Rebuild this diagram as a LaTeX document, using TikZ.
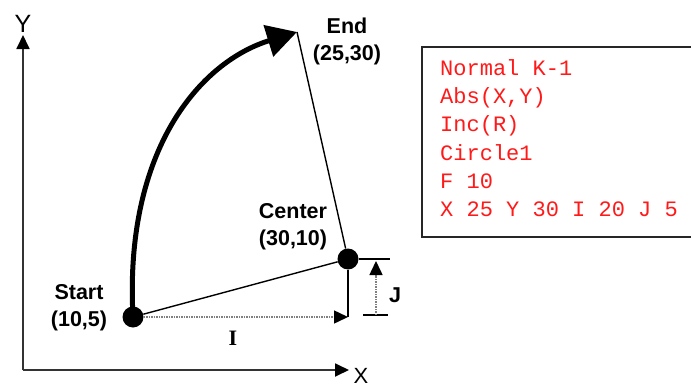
\documentclass[tikz,border=0pt]{standalone}
\usepackage{fontspec}
\setmainfont{Liberation Serif}
\setsansfont{Liberation Sans}
\setmonofont{Liberation Mono}
\usepackage{tikz}
\usetikzlibrary{arrows.meta,positioning}

\begin{document}
\begin{tikzpicture}[
  x=1pt, y=-1pt,
  font=\sffamily\bfseries\fontsize{21.5}{27}\selectfont,
  dot/.style={circle, fill=black, inner sep=0pt, minimum size=21pt},
  lbl/.style={align=center, inner sep=0pt},
  tip/.style={-{Triangle[length=14pt,width=13pt,black]}},
  axis/.style={line width=1.8pt, draw=black!80, tip},
  thinline/.style={line width=1.4pt},
  dimline/.style={line width=1.5pt, draw=black!50, densely dotted, tip},
  codebox/.style={line width=2pt, draw=black!85},
  code/.style={font=\ttfamily\fontsize{22}{28.3}\selectfont, text=red!90, align=left, anchor=north west, inner sep=0pt}
]
\useasboundingbox (0,0) rectangle (691,388);

% axes
\coordinate (origin) at (23,370);
\coordinate (ytip) at (23,35);
\coordinate (xtip) at (349,370);
\draw[axis] (origin) -- (ytip);
\draw[axis] (origin) -- (xtip);
\node[font=\sffamily\fontsize{25}{25}\selectfont, inner sep=0pt] (ylab) at (23,24) {Y};
\node[font=\sffamily\fontsize{22}{22}\selectfont, inner sep=0pt, anchor=base] (xlab) at (361,383) {X};

% points
\node[dot] (start) at (133,317) {};
\node[dot] (center) at (348,259) {};
\coordinate (end) at (297,32);
\coordinate (ibot) at (348,317);

\node[lbl] (startlab) at (79,308) {Start\\(10,5)};
\node[lbl] (centerlab) at (293,227) {Center\\(30,10)};
\node[lbl] (endlab) at (347,41) {End\\(25,30)};

% arc
\draw[line width=5pt, -{Triangle[length=30pt,width=32pt]}]
  (start.center) .. controls (124,150) and (200,62) .. (end);

% radii
\draw[thinline] (center) -- (end);
\draw[thinline] (start) -- (center);
\draw[thinline] (center) -- (ibot);

% I
\draw[dimline] (start) -- (ibot);
\node[font=\rmfamily\bfseries\fontsize{22}{22}\selectfont, inner sep=0pt] (ilab) at (233,338) {I};

% J
\coordinate (jtop) at (390,259);
\coordinate (jbl) at (363,315);
\coordinate (jbr) at (388,315);
\coordinate (jfoot) at (376,315);
\coordinate (jhead) at (376,261);
\draw[thinline] (center) -- (jtop);
\draw[thinline] (jbl) -- (jbr);
\draw[dimline] (jfoot) -- (jhead);
\node[inner sep=0pt] (jlab) at (395,295) {J};

% program
\draw[codebox] (691,47) -- (422,47) -- (422,237) -- (691,237);
\node[code] (prog) at (440,59) {Normal K-1\\Abs(X,Y)\\Inc(R)\\Circle1\\F 10\\X 25 Y 30 I 20 J 5};
\end{tikzpicture}
\end{document}
